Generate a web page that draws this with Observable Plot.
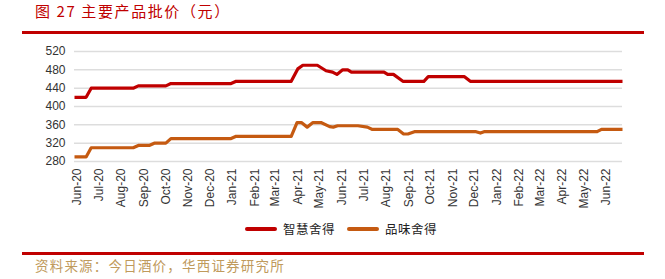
<!DOCTYPE html>
<html><head><meta charset="utf-8">
<script src="https://cdn.jsdelivr.net/npm/d3@7"></script>
<script src="https://cdn.jsdelivr.net/npm/@observablehq/plot@0.6"></script>
<style>
body{margin:0;width:665px;height:279px;overflow:hidden;background:#fff;position:relative;font-family:"Noto Sans CJK SC",sans-serif}
#title{position:absolute;left:35px;top:2px;font-size:15px;line-height:17px;color:#c00000;white-space:nowrap;letter-spacing:1.6px}
.rule{position:absolute;left:22px;width:622px;height:2.5px;background:#c00000}
#chart{position:absolute;left:0;top:40px}
#legend{position:absolute;top:221px;left:0;width:665px;height:16px;font-size:12.5px;color:#222}
.sw{position:absolute;top:6px;width:32px;height:4px;border-radius:2px}
.lt{position:absolute;top:0;line-height:16px;letter-spacing:0.5px}
#source{position:absolute;left:35px;top:256px;font-size:13.5px;line-height:18px;color:#c09a5c;white-space:nowrap;letter-spacing:1.2px}
</style></head><body>
<div id="title">图 27 主要产品批价（元）</div>
<div class="rule" style="top:31px"></div>
<div id="chart"></div>
<div id="legend">
  <div class="sw" style="left:245px;background:#c00000"></div><div class="lt" style="left:283px">智慧舍得</div>
  <div class="sw" style="left:347px;background:#c55a11"></div><div class="lt" style="left:385px">品味舍得</div>
</div>
<div class="rule" style="top:252px"></div>
<div id="source">资料来源：今日酒价，华西证券研究所</div>
<script>
const seriesNames = ["智慧舍得", "品味舍得"];
const zhihuiDates = ["2020-05-28","2020-06-13","2020-06-20","2020-08-17","2020-08-24","2020-10-01","2020-10-08","2020-12-30","2021-01-06","2021-03-23","2021-04-01","2021-04-08","2021-04-28","2021-05-10","2021-05-19","2021-05-25","2021-06-02","2021-06-09","2021-06-14","2021-07-29","2021-08-03","2021-08-11","2021-08-24","2021-09-22","2021-09-28","2021-11-17","2021-11-25","2022-06-23"];
const zhihuiValues = [420,420,440,440,445,445,450,450,455,455,482,490,490,478,475,470,480,480,475,475,470,470,455,455,465,465,455,455];
const pinweiDates = ["2020-05-28","2020-06-13","2020-06-20","2020-08-17","2020-08-24","2020-09-08","2020-09-15","2020-10-01","2020-10-08","2020-12-30","2021-01-06","2021-03-23","2021-03-31","2021-04-06","2021-04-14","2021-04-22","2021-05-03","2021-05-15","2021-05-20","2021-05-26","2021-06-23","2021-07-06","2021-07-13","2021-08-17","2021-08-25","2021-08-31","2021-09-09","2021-12-03","2021-12-09","2021-12-14","2022-05-19","2022-05-25","2022-06-23"];
const pinweiValues = [290,290,310,310,315,315,320,320,330,330,335,335,365,365,355,365,365,356,355,358,358,355,350,350,340,340,345,345,342,345,345,350,350];
const yTicks = [280,320,360,400,440,480,520];
const xTickMonths = ["2020-06","2020-07","2020-08","2020-09","2020-10","2020-11","2020-12","2021-01","2021-02","2021-03","2021-04","2021-05","2021-06","2021-07","2021-08","2021-09","2021-10","2021-11","2021-12","2022-01","2022-02","2022-03","2022-04","2022-05","2022-06"];

const zhihui = zhihuiDates.map((d,i)=>({date:new Date(d), value:zhihuiValues[i]}));
const pinwei = pinweiDates.map((d,i)=>({date:new Date(d), value:pinweiValues[i]}));
const xTicks = xTickMonths.map(m=>new Date(m+"-01"));

const chart = Plot.plot({
  width:665, height:170,
  marginTop:11, marginBottom:49, marginLeft:74, marginRight:43,
  style:{fontFamily:"'Liberation Sans', Arial, sans-serif", fontSize:"12px", color:"#333", background:"transparent"},
  x:{type:"utc", domain:[new Date("2020-05-28"), new Date("2022-06-23")]},
  y:{domain:[280,520]},
  marks:[
    Plot.gridY(yTicks, {stroke:"#dddddd", strokeOpacity:1, strokeWidth:1.5}),
    Plot.axisY({ticks:yTicks, tickSize:0, tickPadding:9, fill:"#333", label:null}),
    Plot.axisX({ticks:xTicks, tickFormat:d3.utcFormat("%b-%y"), tickRotate:-90, textAnchor:"end", lineAnchor:"middle", tickSize:0, tickPadding:7, fill:"#333", label:null}),
    Plot.line(zhihui, {x:"date", y:"value", stroke:"#c00000", strokeWidth:3.2, strokeLinejoin:"round", strokeLinecap:"butt"}),
    Plot.line(pinwei, {x:"date", y:"value", stroke:"#c55a11", strokeWidth:3.2, strokeLinejoin:"round", strokeLinecap:"butt"})
  ]
});
document.getElementById("chart").appendChild(chart);
</script>
</body></html>
